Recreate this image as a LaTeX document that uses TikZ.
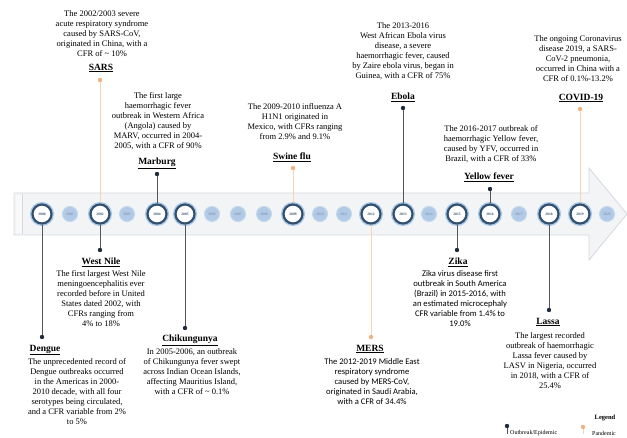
\documentclass[tikz,border=0pt]{standalone}
\usepackage{fontspec}
\setmainfont{Liberation Serif}
\newfontfamily\sansf{Carlito}
\definecolor{ring}{HTML}{34506F}
\definecolor{glow}{HTML}{A7C7E7}
\definecolor{smallc}{HTML}{B3CAE6}
\definecolor{bandc}{HTML}{F3F4F6}
\definecolor{bandedge}{HTML}{D5D8DD}
\definecolor{lined}{HTML}{555555}
\definecolor{dotd}{HTML}{1F2A3C}
\definecolor{lineo}{HTML}{F7D3B5}
\definecolor{doto}{HTML}{F2B27E}
\tikzset{
  bigyr/.style={circle, minimum size=19pt, inner sep=0pt, fill=white, draw=ring, line width=2.2pt,
     preaction={draw=glow, line width=5pt}, font=\fontsize{3.6}{4}\selectfont\bfseries, text=ring},
  smallyr/.style={circle, minimum size=15pt, inner sep=0pt, fill=smallc, draw=glow!70, line width=1pt,
     font=\fontsize{3.6}{4}\selectfont, text=ring!70},
  desc/.style={align=center, inner sep=0pt, font=\fontsize{8.5}{10}\selectfont, anchor=north},
  descs/.style={desc, font=\sansf\fontsize{8.6}{10}\selectfont},
  ttl/.style={inner sep=0pt, font=\fontsize{9.5}{10}\selectfont\bfseries},
  dotdark/.style={circle, fill=dotd, minimum size=4.4pt, inner sep=0pt},
  dotor/.style={circle, fill=doto, minimum size=4.4pt, inner sep=0pt},
  linkd/.style={draw=lined, line width=0.6pt},
  linko/.style={draw=lineo, line width=0.8pt},
}
\begin{document}
\begin{tikzpicture}[x=1pt,y=-1pt]
\useasboundingbox (0,0) rectangle (627,438);
% timeline arrow
\path[fill=bandc, draw=bandedge, line width=0.8pt] (14,193) -- (589,193) -- (589,168) -- (627,214) -- (589,260) -- (589,235) -- (14,235) -- cycle;
\fill[white, opacity=0.5] (16,195) rectangle (22,233);
\draw[bandedge, line width=0.6pt] (22,194) -- (22,234);
% year circles
\node[bigyr]   (y2000) at (42,214)  {2000};
\node[smallyr] (y2001) at (70,214)  {2001};
\node[bigyr]   (y2002) at (100,214) {2002};
\node[smallyr] (y2003) at (127,214) {2003};
\node[bigyr]   (y2004) at (157,214) {2004};
\node[bigyr]   (y2005) at (185,214) {2005};
\node[smallyr] (y2006) at (212,214) {2006};
\node[smallyr] (y2007) at (238,214) {2007};
\node[smallyr] (y2008) at (264,214) {2008};
\node[bigyr]   (y2009) at (293,214) {2009};
\node[smallyr] (y2010) at (320,214) {2010};
\node[smallyr] (y2011) at (344,214) {2011};
\node[bigyr]   (y2012) at (371,214) {2012};
\node[bigyr]   (y2013) at (403,214) {2013};
\node[smallyr] (y2014) at (429,214) {2014};
\node[bigyr]   (y2015) at (457,214) {2015};
\node[bigyr]   (y2016) at (490,214) {2016};
\node[smallyr] (y2017) at (519,214) {2017};
\node[bigyr]   (y2018) at (549,214) {2018};
\node[bigyr]   (y2019) at (580,214) {2019};
\node[smallyr] (y2020) at (607,214) {2020};
% dots
\node[dotor]   (dSARS)  at (100,80)  {};
\node[dotdark] (dMarb)  at (157,174) {};
\node[dotor]   (dSwine) at (293,168) {};
\node[dotdark] (dEbola) at (403,108) {};
\node[dotdark] (dYell)  at (490,189) {};
\node[dotor]   (dCovid) at (580,109) {};
\node[dotdark] (dWest)  at (100,250) {};
\node[dotdark] (dDeng)  at (42,337)  {};
\node[dotdark] (dChik)  at (185,328) {};
\node[dotor]   (dMERS)  at (371,337) {};
\node[dotdark] (dZika)  at (457,250) {};
\node[dotdark] (dLassa) at (549,310) {};
% connectors
\draw[linko] (y2002) -- (dSARS);
\draw[linkd] (y2004) -- (dMarb);
\draw[linko] (y2009) -- (dSwine);
\draw[linkd] (y2013) -- (dEbola);
\draw[linkd] (y2016) -- (dYell);
\draw[linko] (y2019) -- (dCovid);
\draw[linkd] (y2002) -- (dWest);
\draw[linkd] (y2000) -- (dDeng);
\draw[linkd] (y2005) -- (dChik);
\draw[linko] (y2012) -- (dMERS);
\draw[linkd] (y2015) -- (dZika);
\draw[linkd] (y2018) -- (dLassa);
% titles
\node[ttl] (tSARS)  at (101,68)  {\underline{SARS}};
\node[ttl] (tMarb)  at (157,163) {\underline{Marburg}};
\node[ttl] (tSwine) at (292,157) {\underline{Swine flu}};
\node[ttl] (tEbola) at (403,97)  {\underline{Ebola}};
\node[ttl] (tYell)  at (489,177) {\underline{Yellow fever}};
\node[ttl] (tCovid) at (581,98)  {\underline{COVID-19}};
\node[ttl] (tWest)  at (101,262) {\underline{West Nile}};
\node[ttl] (tDeng)  at (45,350)  {\underline{Dengue}};
\node[ttl] (tChik)  at (190,340) {\underline{Chikungunya}};
\node[ttl] (tMERS)  at (370,349) {\underline{MERS}};
\node[ttl] (tZika)  at (458,262) {\underline{Zika}};
\node[ttl] (tLassa) at (548,322) {\underline{Lassa}};
% descriptions
\node[desc] (xSARS) at (102,10) {The 2002/2003 severe\\acute respiratory syndrome\\caused by SARS-CoV,\\originated in China, with a\\CFR of \textasciitilde{} 10\%};
\node[desc] (xMarb) at (158,92) {The first large\\haemorrhagic fever\\outbreak in Western Africa\\(Angola) caused by\\MARV, occurred in 2004-\\2005, with a CFR of 90\%};
\node[desc] (xSwine) at (295,103) {The 2009-2010 influenza A\\H1N1 originated in\\Mexico, with CFRs ranging\\from 2.9\% and 9.1\%};
\node[desc] (xEbola) at (403,22) {The 2013-2016\\West African Ebola virus\\disease, a severe\\haemorrhagic fever, caused\\by Zaire ebola virus, began in\\Guinea, with a CFR of 75\%};
\node[desc] (xYell) at (491,125) {The 2016-2017 outbreak of\\haemorrhagic Yellow fever,\\caused by YFV, occurred in\\Brazil, with a CFR of 33\%};
\node[desc] (xCovid) at (578,35) {The ongoing Coronavirus\\disease 2019, a SARS-\\CoV-2 pneumonia,\\occurred in China with a\\CFR of 0.1\%-13.2\%};
\node[desc] (xWest) at (101,270) {The first largest West Nile\\meningoencephalitis ever\\recorded before in United\\States dated 2002, with\\CFRs ranging from\\4\% to 18\%};
\node[desc] (xDeng) at (77,358) {The unprecedented record of\\Dengue outbreaks occurred\\in the Americas in 2000-\\2010 decade, with all four\\serotypes being circulated,\\and a CFR variable from 2\%\\to 5\%};
\node[desc] (xChik) at (192,348) {In 2005-2006, an outbreak\\of Chikungunya fever swept\\across Indian Ocean Islands,\\affecting Mauritius Island,\\with a CFR of \textasciitilde{} 0.1\%};
\node[descs] (xMERS) at (372,358) {The 2012-2019 Middle East\\respiratory syndrome\\caused by MERS-CoV,\\originated in Saudi Arabia,\\with a CFR of 34.4\%};
\node[descs] (xZika) at (460,270) {Zika virus disease first\\outbreak in South America\\(Brazil) in 2015-2016, with\\an estimated microcephaly\\CFR variable from 1.4\% to\\19.0\%};
\node[desc] (xLassa) at (550,332) {The largest recorded\\outbreak of haemorrhagic\\Lassa fever caused by\\LASV in Nigeria, occurred\\in 2018, with a CFR of\\25.4\%};
% legend
\node[inner sep=0pt, font=\fontsize{6.5}{7}\selectfont\bfseries] (lgT) at (605,418) {Legend};
\node[dotdark] (lgD) at (507,426) {};
\coordinate (lgDb) at (507,434);
\draw[linkd] (lgD) -- (lgDb);
\node[inner sep=0pt, anchor=west, font=\fontsize{6}{7}\selectfont] (lgDt) at (510,433) {Outbreak/Epidemic};
\node[dotor] (lgO) at (583,427) {};
\coordinate (lgOb) at (583,434);
\draw[linko] (lgO) -- (lgOb);
\node[inner sep=0pt, anchor=west, font=\fontsize{6}{7}\selectfont] (lgOt) at (592,433) {Pandemic};
\end{tikzpicture}
\end{document}
